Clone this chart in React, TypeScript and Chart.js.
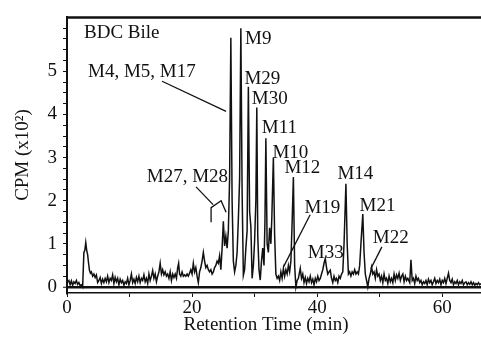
import React, { useEffect, useRef } from 'react';
import { Chart, registerables } from 'chart.js';

Chart.register(...registerables);

// [retention time (min), CPM (x10^2)]
const earlyRegion: [number, number][] = [
  [0.0, 0.1], [0.3, 0.15], [0.5, 0.05], [0.7, 0.14], [0.9, 0.04], [1.1, 0.12], [1.3, 0.08],
  [1.5, 0.15], [1.7, 0.06], [1.9, 0.1], [2.1, 0.03], [2.3, 0.05], [2.5, 0.0], [2.7, 0.8],
  [2.85, 0.85], [3.0, 1.03], [3.15, 0.85], [3.3, 0.75], [3.45, 0.55], [3.6, 0.38], [3.75, 0.32],
  [3.9, 0.35], [4.1, 0.25], [4.3, 0.3], [4.5, 0.22], [4.7, 0.28], [4.9, 0.1], [5.1, 0.15],
  [5.3, 0.22], [5.5, 0.08], [5.7, 0.18], [5.9, 0.1], [6.1, 0.2], [6.3, 0.12], [6.5, 0.25],
  [6.7, 0.1], [6.9, 0.2], [7.1, 0.15], [7.3, 0.28], [7.5, 0.08], [7.7, 0.22], [7.9, 0.12],
  [8.1, 0.2], [8.3, 0.05], [8.5, 0.18], [8.7, 0.1], [8.9, 0.15], [9.1, 0.04], [9.3, 0.12],
  [9.5, 0.08], [9.7, 0.2], [9.9, 0.05], [10.1, 0.15], [10.3, 0.3], [10.5, 0.1], [10.7, 0.18],
  [10.9, 0.08], [11.1, 0.22], [11.3, 0.12], [11.5, 0.25], [11.7, 0.1], [11.9, 0.2],
];

const risingRegion: [number, number][] = [
  [12.1, 0.15], [12.3, 0.28], [12.5, 0.12], [12.7, 0.2], [12.9, 0.08], [13.1, 0.3], [13.3, 0.15],
  [13.5, 0.25], [13.7, 0.38], [13.9, 0.2], [14.1, 0.3], [14.3, 0.12], [14.5, 0.25], [14.7, 0.35],
  [14.9, 0.55], [15.1, 0.3], [15.3, 0.4], [15.5, 0.28], [15.7, 0.35], [15.9, 0.25], [16.1, 0.3],
  [16.3, 0.2], [16.5, 0.35], [16.7, 0.15], [16.9, 0.3], [17.1, 0.22], [17.3, 0.3], [17.5, 0.2],
  [17.7, 0.45], [17.85, 0.55], [18.0, 0.3], [18.2, 0.25], [18.4, 0.35], [18.6, 0.25], [18.8, 0.28],
  [19.0, 0.25], [19.2, 0.3], [19.4, 0.25], [19.6, 0.32], [19.8, 0.4], [20.0, 0.3], [20.2, 0.55],
  [20.4, 0.35], [20.6, 0.45], [20.8, 0.25], [21.0, 0.1], [21.2, 0.35], [21.4, 0.45], [21.6, 0.6],
  [21.8, 0.8], [22.0, 0.6], [22.2, 0.45], [22.4, 0.5], [22.6, 0.4], [22.8, 0.35], [23.0, 0.4],
  [23.2, 0.3], [23.4, 0.35], [23.6, 0.45], [23.8, 0.5], [24.0, 0.6], [24.2, 0.55], [24.4, 0.72],
  [24.6, 0.4], [24.8, 0.9], [25.0, 1.52], [25.2, 0.95], [25.4, 1.18], [25.6, 0.9], [25.8, 1.3],
];

const peakCluster: [number, number][] = [
  [26.0, 2.5], [26.2, 5.78], [26.4, 2.0], [26.6, 0.6], [26.8, 0.35], [27.0, 0.5], [27.2, 0.8],
  [27.4, 1.57], [27.6, 2.5], [27.8, 6.0], [28.0, 2.2], [28.2, 0.27], [28.4, 0.4], [28.6, 0.9],
  [28.8, 1.3], [29.0, 4.64], [29.2, 1.75], [29.4, 1.4], [29.6, 0.2], [29.8, 0.5], [30.0, 1.07],
  [30.2, 2.0], [30.35, 4.16], [30.5, 1.2], [30.7, 0.4], [30.9, 0.16], [31.1, 0.6], [31.3, 0.9],
  [31.5, 0.5], [31.65, 1.5], [31.8, 3.45], [32.0, 1.0], [32.2, 0.8], [32.4, 1.37], [32.6, 1.0],
  [32.75, 1.6], [33.0, 3.0], [33.2, 1.2], [33.4, 0.3], [33.6, 0.2], [33.8, 0.25], [34.0, 0.15],
  [34.2, 0.35], [34.4, 0.2], [34.6, 0.43], [34.8, 0.25], [35.0, 0.4], [35.2, 0.3], [35.4, 0.5],
  [35.6, 0.35], [35.8, 0.6], [36.0, 1.5], [36.2, 2.55], [36.4, 0.5], [36.6, 0.0],
];

const middleRegion: [number, number][] = [
  [36.8, 0.15], [37.0, 0.2], [37.3, 0.43], [37.5, 0.2], [37.7, 0.3], [37.9, 0.1], [38.1, 0.22],
  [38.3, 0.08], [38.5, 0.2], [38.7, 0.12], [38.9, 0.25], [39.1, 0.1], [39.3, 0.18], [39.5, 0.05],
  [39.7, 0.2], [39.9, 0.12], [40.1, 0.25], [40.3, 0.15], [40.5, 0.2], [40.7, 0.3], [40.9, 0.4],
  [41.1, 0.55], [41.3, 0.66], [41.5, 0.45], [41.7, 0.3], [41.9, 0.35], [42.1, 0.39], [42.3, 0.2],
  [42.5, 0.1], [42.7, 0.25], [42.9, 0.15], [43.1, 0.2], [43.3, 0.1], [43.5, 0.25], [43.7, 0.2],
  [43.9, 0.3], [44.1, 0.35], [44.3, 1.0], [44.6, 2.39], [44.8, 1.0], [45.0, 0.3], [45.2, 0.35],
  [45.4, 0.25], [45.6, 0.35], [45.8, 0.3], [46.0, 0.4], [46.2, 0.3], [46.4, 0.35], [46.6, 0.3],
  [46.8, 0.5], [47.0, 1.0], [47.3, 1.69], [47.5, 0.8], [47.7, 0.3], [47.9, 0.15], [48.1, 0.0],
  [48.3, 0.2], [48.5, 0.3], [48.7, 0.46], [48.9, 0.3], [49.1, 0.35], [49.3, 0.2], [49.5, 0.4],
];

const lateRegion: [number, number][] = [
  [49.7, 0.25], [49.9, 0.3], [50.1, 0.15], [50.3, 0.25], [50.5, 0.1], [50.7, 0.3], [50.9, 0.15],
  [51.1, 0.2], [51.3, 0.08], [51.5, 0.25], [51.7, 0.12], [51.9, 0.2], [52.1, 0.1], [52.3, 0.3],
  [52.5, 0.15], [52.7, 0.28], [52.9, 0.2], [53.1, 0.32], [53.3, 0.15], [53.5, 0.25], [53.7, 0.3],
  [53.9, 0.12], [54.1, 0.25], [54.3, 0.15], [54.5, 0.2], [54.8, 0.1], [55.0, 0.63], [55.2, 0.15],
  [55.4, 0.2], [55.6, 0.08], [55.8, 0.25], [56.0, 0.15], [56.2, 0.2], [56.4, 0.1], [56.6, 0.15],
  [56.8, 0.05], [57.0, 0.12], [57.2, 0.08], [57.4, 0.15], [57.6, 0.05], [57.8, 0.18], [58.0, 0.1],
  [58.2, 0.15], [58.4, 0.05], [58.6, 0.12], [58.8, 0.2], [59.0, 0.08], [59.2, 0.15], [59.4, 0.1],
  [59.6, 0.18], [59.8, 0.05], [60.0, 0.15], [60.2, 0.1], [60.4, 0.2], [60.6, 0.08], [60.8, 0.2],
  [61.0, 0.32], [61.2, 0.15], [61.4, 0.1], [61.6, 0.18], [61.8, 0.05], [62.0, 0.12], [62.2, 0.08],
  [62.4, 0.15], [62.6, 0.05], [62.8, 0.12], [63.0, 0.08], [63.2, 0.15], [63.4, 0.05], [63.6, 0.1],
  [63.8, 0.12], [64.0, 0.05], [64.2, 0.1], [64.4, 0.06], [64.6, 0.12], [64.8, 0.05], [65.0, 0.1],
  [65.2, 0.04], [65.4, 0.08], [65.6, 0.05], [65.8, 0.1], [66.0, 0.05], [66.2, 0.08],
];

const xTickValues = [0, 10, 20, 30, 40, 50, 60];
const xTickLabels = ['0', '', '20', '', '40', '', '60'];
const yTickValues = [
  0, 0.25, 0.5, 0.75, 1, 1.25, 1.5, 1.75, 2, 2.25, 2.5, 2.75, 3, 3.25, 3.5, 3.75, 4, 4.25, 4.5,
  4.75, 5, 5.25, 5.5, 5.75, 6,
];
const yLabelValues = [0, 1, 2, 3, 4, 5];

// Peak labels: [text, time (min), CPM] — left/baseline anchor in data units
const peakLabels: [string, number, number][] = [
  ['BDC Bile', 2.72, 5.77],
  ['M4, M5, M17', 3.36, 4.87],
  ['M9', 28.48, 5.63],
  ['M29', 28.37, 4.7],
  ['M30', 29.55, 4.25],
  ['M11', 31.15, 3.57],
  ['M10', 32.85, 3.0],
  ['M12', 34.77, 2.64],
  ['M14', 43.25, 2.51],
  ['M21', 46.77, 1.77],
  ['M22', 48.91, 1.01],
  ['M19', 37.97, 1.71],
  ['M33', 38.51, 0.675],
  ['M27, M28', 12.75, 2.43],
];

// Leader lines as polylines of [time, CPM]
const leaderLines: [number, number][][] = [
  [[15.2, 4.77], [25.44, 4.07]],
  [[20.64, 2.32], [23.36, 1.91]],
  [[23.04, 1.5], [23.04, 1.84], [24.64, 2.0], [25.44, 1.73]],
  [[38.88, 1.675], [34.6, 0.46]],
  [[50.35, 0.93], [48.59, 0.425]],
];

const FONT = "'Liberation Serif', 'Times New Roman', serif";
const INK = '#111';

const annotationPlugin = {
  id: 'chromAnnotations',
  afterDatasetsDraw(chart: any) {
    const { ctx, chartArea, scales } = chart;
    const xs = scales.x;
    const ys = scales.y;
    ctx.save();
    // top frame line
    ctx.strokeStyle = INK;
    ctx.lineWidth = 2.5;
    ctx.beginPath();
    ctx.moveTo(chartArea.left - 1, chartArea.top);
    ctx.lineTo(chartArea.right, chartArea.top);
    ctx.stroke();

    ctx.lineWidth = 1.3;
    leaderLines.forEach((pts) => {
      ctx.beginPath();
      pts.forEach(([t, v], i) => {
        const px = xs.getPixelForValue(t);
        const py = ys.getPixelForValue(v);
        if (i === 0) ctx.moveTo(px, py);
        else ctx.lineTo(px, py);
      });
      ctx.stroke();
    });

    ctx.fillStyle = INK;
    ctx.font = `19px ${FONT}`;
    ctx.textAlign = 'left';
    ctx.textBaseline = 'alphabetic';
    peakLabels.forEach(([text, t, v]) => {
      ctx.fillText(text, xs.getPixelForValue(t), ys.getPixelForValue(v));
    });

    // axis titles
    ctx.textAlign = 'center';
    ctx.fillText('Retention Time (min)', 266, 330);
    ctx.translate(23, 155);
    ctx.rotate(-Math.PI / 2);
    ctx.textBaseline = 'middle';
    ctx.fillText('CPM (x10²)', 0, 0);
    ctx.restore();
  },
};

export default function App() {
  const canvasRef = useRef<HTMLCanvasElement | null>(null);

  useEffect(() => {
    document.body.style.margin = '0';
    const canvas = canvasRef.current;
    if (!canvas) return;
    const points = [...earlyRegion, ...risingRegion, ...peakCluster, ...middleRegion, ...lateRegion].map(
      ([x, y]) => ({ x, y })
    );
    const chart = new Chart(canvas, {
      type: 'line',
      data: {
        datasets: [
          {
            data: points,
            borderColor: INK,
            borderWidth: 1.5,
            pointRadius: 0,
            tension: 0,
            fill: false,
          },
        ],
      },
      options: {
        responsive: false,
        animation: false,
        events: [],
        layout: { padding: { top: 12, left: 0, right: 0, bottom: 0 } },
        plugins: { legend: { display: false }, tooltip: { enabled: false } },
        scales: {
          x: {
            type: 'linear',
            min: 0,
            max: 66.2,
            afterBuildTicks: (scale: any) => {
              scale.ticks = xTickValues.map((v) => ({ value: v }));
            },
            afterFit: (scale: any) => {
              scale.height = 46;
            },
            ticks: {
              autoSkip: false,
              maxRotation: 0,
              padding: 0,
              color: INK,
              font: { family: FONT, size: 19 },
              callback: (value: any) => {
                const i = xTickValues.indexOf(Number(value));
                return i >= 0 ? xTickLabels[i] : '';
              },
            },
            grid: {
              display: true,
              drawOnChartArea: false,
              tickLength: 4,
              tickColor: INK,
              tickWidth: 1,
            },
            border: { display: true, color: INK, width: 1.5 },
          },
          y: {
            type: 'linear',
            min: -0.14,
            max: 6.25,
            afterBuildTicks: (scale: any) => {
              scale.ticks = yTickValues.map((v) => ({ value: v }));
            },
            afterFit: (scale: any) => {
              scale.width = 67;
            },
            ticks: {
              autoSkip: false,
              padding: 6,
              color: INK,
              font: { family: FONT, size: 19 },
              callback: (value: any) => (yLabelValues.includes(Number(value)) ? String(value) : ''),
            },
            grid: {
              display: true,
              drawOnChartArea: true,
              tickLength: 4,
              tickColor: INK,
              tickWidth: 1,
              color: (c: any) => (c.tick && c.tick.value === 0 ? INK : 'rgba(0,0,0,0)'),
              lineWidth: (c: any) => (c.tick && c.tick.value === 0 ? 2.5 : 1),
            },
            border: { display: true, color: INK, width: 2 },
          },
        },
      },
      plugins: [annotationPlugin],
    });
    return () => chart.destroy();
  }, []);

  return (
    <div style={{ position: 'absolute', left: 0, top: 0, width: 481, height: 339, background: '#fff' }}>
      <canvas ref={canvasRef} width={481} height={339} style={{ display: 'block' }} />
    </div>
  );
}
